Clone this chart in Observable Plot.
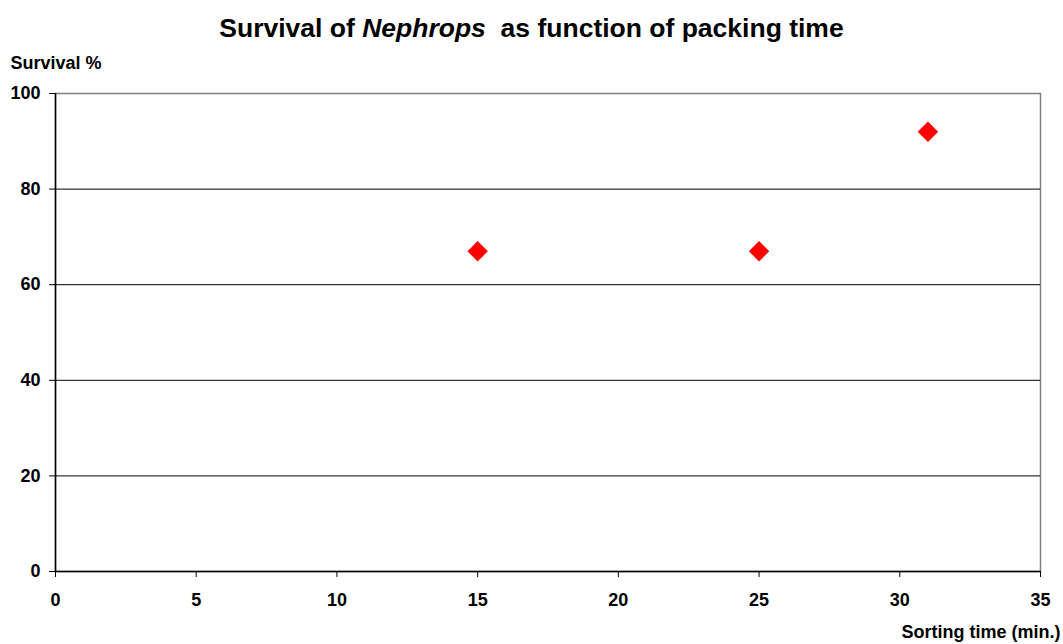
<!DOCTYPE html>
<html>
<head>
<meta charset="utf-8">
<script src="https://cdn.jsdelivr.net/npm/d3@7"></script>
<script src="https://cdn.jsdelivr.net/npm/@observablehq/plot@0.6"></script>
<style>
  body { margin: 0; background: #fff; font-family: "Liberation Sans", Arial, sans-serif; }
  #title { width: 1063px; height: 50px; text-align: center; font-weight: bold; font-size: 26.5px; line-height: 26px; box-sizing: border-box; padding-top: 15px; color: #000; }
</style>
</head>
<body>
<div id="title">Survival of <i>Nephrops</i>&nbsp; as function of packing time</div>
<div id="chart"></div>
<script>
const sortingTime = [15, 25, 31];
const survival = [67, 67, 92];
const xTicks = [0, 5, 10, 15, 20, 25, 30, 35];
const yTicks = [0, 20, 40, 60, 80, 100];
const gridLines = [20, 40, 60, 80];

const data = sortingTime.map((t, i) => ({t, s: survival[i]}));

const chart = Plot.plot({
  width: 1063,
  height: 594,
  marginLeft: 55,
  marginRight: 23,
  marginTop: 43,
  marginBottom: 73,
  style: {fontFamily: "'Liberation Sans', Arial, sans-serif", fontSize: "18px", fontWeight: "bold", color: "#000", background: "#fff"},
  x: {domain: [0, 35], ticks: xTicks, label: null},
  y: {domain: [0, 100], ticks: yTicks, label: null},
  marks: [
    Plot.frame({stroke: "#808080", strokeWidth: 1.5}),
    Plot.ruleY(gridLines, {stroke: "#000", strokeWidth: 1}),
    Plot.ruleY([0], {stroke: "#000", strokeWidth: 1.5}),
    Plot.ruleX([0], {stroke: "#000", strokeWidth: 1.5}),
    Plot.axisX({ticks: xTicks, tickSize: 6, tickPadding: 16, fontSize: 18, fontWeight: "bold", stroke: "#000", label: null}),
    Plot.axisY({ticks: yTicks, tickSize: 6, tickPadding: 9, fontSize: 18, fontWeight: "bold", stroke: "#000", label: null}),
    Plot.dot(data, {x: "t", y: "s", symbol: "diamond2", r: 9.2, fill: "#ff0000", stroke: null}),
    Plot.text(["Survival %"], {frameAnchor: "top-left", dx: -45, dy: -37, textAnchor: "start", fontSize: 18, fontWeight: "bold"}),
    Plot.text(["Sorting time (min.)"], {frameAnchor: "bottom-right", dx: 20, dy: 66, textAnchor: "end", fontSize: 18, fontWeight: "bold"})
  ]
});
document.getElementById("chart").appendChild(chart);
</script>
</body>
</html>
